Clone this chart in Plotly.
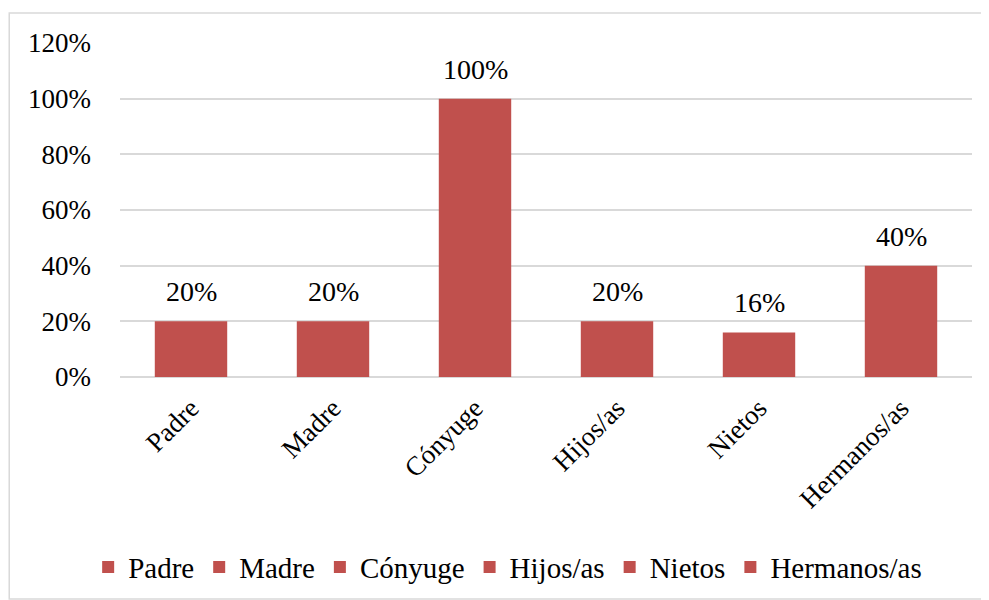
import plotly.graph_objects as go

categories = ["Padre", "Madre", "Cónyuge", "Hijos/as", "Nietos", "Hermanos/as"]
values = [0.20, 0.20, 1.00, 0.20, 0.16, 0.40]
labels = ["20%", "20%", "100%", "20%", "16%", "40%"]

BAR = "#C0504D"
FONT = "Liberation Serif"

fig = go.Figure()
for c, v in zip(categories, values):
    fig.add_trace(go.Bar(
        x=[c], y=[v], name=c,
        marker=dict(color=BAR, line=dict(width=0)),
    ))

for c, v, t in zip(categories, values, labels):
    fig.add_annotation(x=c, y=v, text=t, showarrow=False, yanchor="bottom",
                       yshift=12, font=dict(family=FONT, size=28, color="black"))

fig.update_layout(
    width=981, height=592,
    margin=dict(l=112, r=17, t=35, b=223, autoexpand=False),
    barmode="overlay", bargap=0.49,
    plot_bgcolor="white", paper_bgcolor="white",
    font=dict(family=FONT, size=27, color="black"),
    showlegend=True,
    legend=dict(orientation="h", x=0.455, xanchor="center", y=-0.569, yanchor="middle",
                font=dict(family=FONT, size=29, color="black"), itemwidth=30,
                traceorder="normal"),
    xaxis=dict(categoryorder="array", categoryarray=categories, tickangle=-45,
               showgrid=False, showline=False, ticks="",
               ticklabelshift=0, ticklabelstandoff=9,
               tickfont=dict(family=FONT, size=27, color="black")),
    yaxis=dict(range=[0, 1.2], dtick=0.2, tickformat=".0%", showgrid=True,
               gridcolor="#D9D9D9", gridwidth=1.5, zeroline=True, zerolinecolor="#D9D9D9",
               zerolinewidth=1.5, ticks="", ticklen=0, ticklabelstandoff=28,
               tickfont=dict(family=FONT, size=27, color="black")),
    shapes=[dict(type="rect", xref="paper", yref="paper",
                 x0=-0.130, x1=1.019, y0=-0.665, y1=1.09,
                 line=dict(color="#D9D9D9", width=1.5), layer="below")],
)

fig.write_html("out.html")
